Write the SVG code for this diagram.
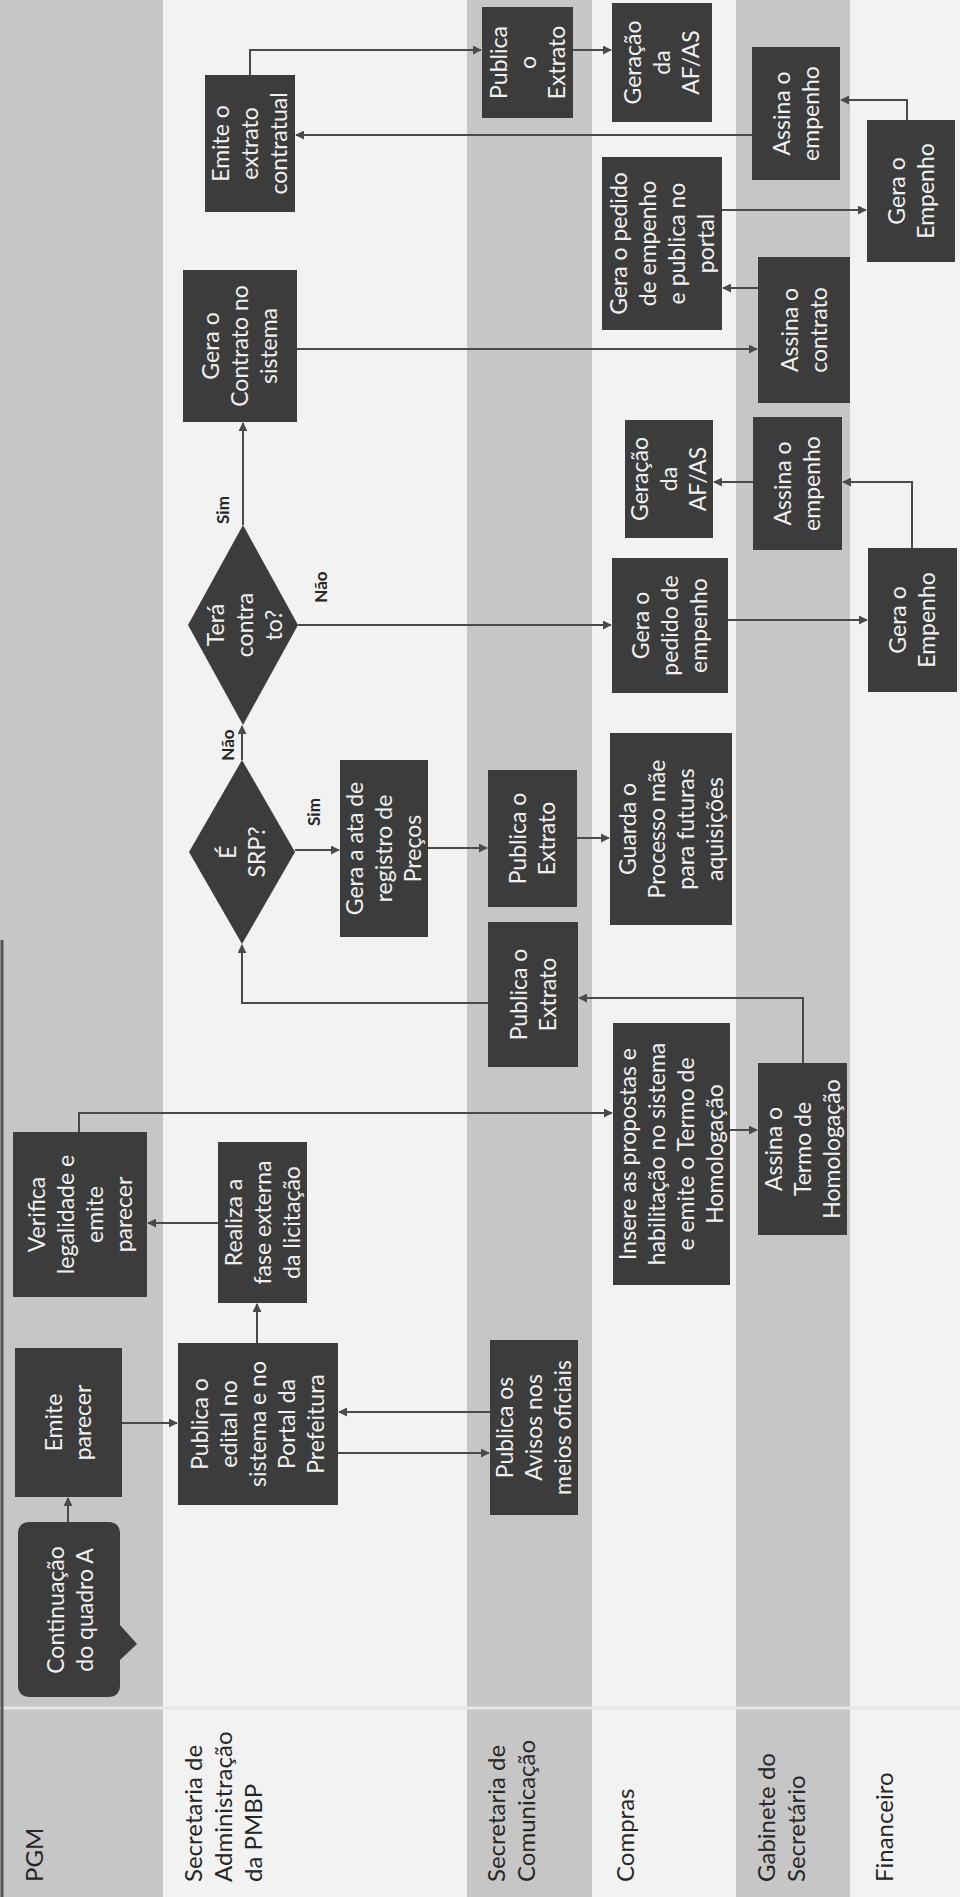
<svg xmlns="http://www.w3.org/2000/svg" width="960" height="1897" viewBox="0 0 960 1897">
<defs>
<marker id="ah" viewBox="0 0 10 10" refX="9" refY="5" markerWidth="4.5" markerHeight="4.5" orient="auto">
<path d="M0,0 L10,5 L0,10 z" fill="#4a4a4a"/>
</marker>
<style>
.lg{fill:#c6c6c6}
.lw{fill:#f2f2f2}
.box{fill:#3c3c3c}
.t{font-family:Lato,"Liberation Sans",sans-serif;font-size:23px;fill:#f0f0f0;text-anchor:middle}
.lbl{font-family:Lato,"Liberation Sans",sans-serif;font-size:24px;fill:#262626;text-anchor:start}
.yn{font-family:Lato,"Liberation Sans",sans-serif;font-size:17px;font-weight:bold;fill:#262626;text-anchor:middle}
.c{fill:none;stroke:#4a4a4a;stroke-width:2;marker-end:url(#ah)}
</style>
</defs>
<g id="lanes">
<rect class="lg" x="0" y="0" width="163" height="1897"/>
<rect class="lw" x="163" y="0" width="304" height="1897"/>
<rect class="lg" x="467" y="0" width="125" height="1897"/>
<rect class="lw" x="592" y="0" width="144" height="1897"/>
<rect class="lg" x="736" y="0" width="114" height="1897"/>
<rect class="lw" x="850" y="0" width="110" height="1897"/>
<line x1="0" y1="1708" x2="960" y2="1708" stroke="#e6e6e6" stroke-width="3"/>
<line x1="2" y1="940" x2="2" y2="1897" stroke="#555" stroke-width="3"/>
<text class="lbl" transform="translate(43,1882) rotate(-90)"><tspan x="0" y="0">PGM</tspan></text>
<text class="lbl" transform="translate(202,1882) rotate(-90)"><tspan x="0" y="0">Secretaria de</tspan><tspan x="0" y="30">Administração</tspan><tspan x="0" y="60">da PMBP</tspan></text>
<text class="lbl" transform="translate(505,1882) rotate(-90)"><tspan x="0" y="0">Secretaria de</tspan><tspan x="0" y="30">Comunicação</tspan></text>
<text class="lbl" transform="translate(634,1882) rotate(-90)"><tspan x="0" y="0">Compras</tspan></text>
<text class="lbl" transform="translate(775,1882) rotate(-90)"><tspan x="0" y="0">Gabinete do</tspan><tspan x="0" y="30">Secretário</tspan></text>
<text class="lbl" transform="translate(893,1882) rotate(-90)"><tspan x="0" y="0">Financeiro</tspan></text>
</g>
<g id="connectors">
<path class="c" d="M68,1522 V1498"/>
<path class="c" d="M122,1423 H177"/>
<path class="c" d="M338,1453 H489"/>
<path class="c" d="M490,1412 H339"/>
<path class="c" d="M257,1343 V1304"/>
<path class="c" d="M218,1223 H148"/>
<path class="c" d="M79,1132 V1113 H612"/>
<path class="c" d="M730,1130 H757"/>
<path class="c" d="M803,1063 V998 H579"/>
<path class="c" d="M488,1003 H242 V945"/>
<path class="c" d="M295,850 H339"/>
<path class="c" d="M428,848 H487"/>
<path class="c" d="M577,838 H609"/>
<path class="c" d="M242,760 V726"/>
<path class="c" d="M243,525 V423"/>
<path class="c" d="M298,625 H611"/>
<path class="c" d="M728,620 H867"/>
<path class="c" d="M912,548 V482 H843"/>
<path class="c" d="M753,482 H714"/>
<path class="c" d="M297,349 H757"/>
<path class="c" d="M758,288 H723"/>
<path class="c" d="M722,210 H866"/>
<path class="c" d="M907,120 V100 H841"/>
<path class="c" d="M752,135 H296"/>
<path class="c" d="M250,75 V50 H481"/>
<path class="c" d="M573,50 H611"/>
<text class="yn" transform="translate(229,510) rotate(-90)">Sim</text>
<text class="yn" transform="translate(327,587) rotate(-90)">Não</text>
<text class="yn" transform="translate(234,745) rotate(-90)">Não</text>
<text class="yn" transform="translate(320,812) rotate(-90)">Sim</text>
</g>
<g id="n_continuacao">
<path class="box" d="M30,1522 H108 Q120,1522 120,1534 V1625 L137,1644 L120,1660 V1685 Q120,1697 108,1697 H30 Q18,1697 18,1685 V1534 Q18,1522 30,1522 Z"/>
<text class="t" transform="translate(70,1610) rotate(-90)"><tspan x="0" y="-6.5">Continuação</tspan><tspan x="0" y="22.5">do quadro A</tspan></text>
</g>
<g id="n_emite_parecer">
<rect class="box" x="15" y="1348" width="107" height="149"/>
<text class="t" transform="translate(68.5,1422.5) rotate(-90)"><tspan x="0" y="-6.5">Emite</tspan><tspan x="0" y="22.5">parecer</tspan></text>
</g>
<g id="n_verifica">
<rect class="box" x="13" y="1132" width="134" height="165"/>
<text class="t" transform="translate(80,1214.5) rotate(-90)"><tspan x="0" y="-35.5">Verifica</tspan><tspan x="0" y="-6.5">legalidade e</tspan><tspan x="0" y="22.5">emite</tspan><tspan x="0" y="51.5">parecer</tspan></text>
</g>
<g id="n_publica_edital">
<rect class="box" x="178" y="1343" width="160" height="162"/>
<text class="t" transform="translate(258,1424) rotate(-90)"><tspan x="0" y="-50">Publica o</tspan><tspan x="0" y="-21">edital no</tspan><tspan x="0" y="8">sistema e no</tspan><tspan x="0" y="37">Portal da</tspan><tspan x="0" y="66">Prefeitura</tspan></text>
</g>
<g id="n_realiza">
<rect class="box" x="218" y="1142" width="89" height="161"/>
<text class="t" transform="translate(262.5,1222.5) rotate(-90)"><tspan x="0" y="-21">Realiza a</tspan><tspan x="0" y="8">fase externa</tspan><tspan x="0" y="37">da licitação</tspan></text>
</g>
<g id="n_publica_avisos">
<rect class="box" x="490" y="1340" width="88" height="175"/>
<text class="t" transform="translate(534,1427.5) rotate(-90)"><tspan x="0" y="-21">Publica os</tspan><tspan x="0" y="8">Avisos nos</tspan><tspan x="0" y="37">meios oficiais</tspan></text>
</g>
<g id="n_insere">
<rect class="box" x="613" y="1023" width="117" height="262"/>
<text class="t" transform="translate(671.5,1154) rotate(-90)"><tspan x="0" y="-35.5">Insere as propostas e</tspan><tspan x="0" y="-6.5">habilitação no sistema</tspan><tspan x="0" y="22.5">e emite o Termo de</tspan><tspan x="0" y="51.5">Homologação</tspan></text>
</g>
<g id="n_assina_termo">
<rect class="box" x="758" y="1063" width="89" height="172"/>
<text class="t" transform="translate(802.5,1149) rotate(-90)"><tspan x="0" y="-21">Assina o</tspan><tspan x="0" y="8">Termo de</tspan><tspan x="0" y="37">Homologação</tspan></text>
</g>
<g id="n_publica_extrato1">
<rect class="box" x="488" y="922" width="90" height="145"/>
<text class="t" transform="translate(533,994.5) rotate(-90)"><tspan x="0" y="-6.5">Publica o</tspan><tspan x="0" y="22.5">Extrato</tspan></text>
</g>
<g id="n_e_srp">
<polygon class="box" points="242,760 295,852 242,944 189,852"/>
<text class="t" transform="translate(242,852) rotate(-90)"><tspan x="0" y="-6.5">É</tspan><tspan x="0" y="22.5">SRP?</tspan></text>
</g>
<g id="n_gera_ata">
<rect class="box" x="340" y="760" width="88" height="177"/>
<text class="t" transform="translate(384,848.5) rotate(-90)"><tspan x="0" y="-21">Gera a ata de</tspan><tspan x="0" y="8">registro de</tspan><tspan x="0" y="37">Preços</tspan></text>
</g>
<g id="n_publica_extrato2">
<rect class="box" x="488" y="770" width="89" height="137"/>
<text class="t" transform="translate(532.5,838.5) rotate(-90)"><tspan x="0" y="-6.5">Publica o</tspan><tspan x="0" y="22.5">Extrato</tspan></text>
</g>
<g id="n_guarda">
<rect class="box" x="610" y="733" width="122" height="192"/>
<text class="t" transform="translate(671,829) rotate(-90)"><tspan x="0" y="-35.5">Guarda o</tspan><tspan x="0" y="-6.5">Processo  mãe</tspan><tspan x="0" y="22.5">para futuras</tspan><tspan x="0" y="51.5">aquisições</tspan></text>
</g>
<g id="n_tera">
<polygon class="box" points="243,525 298,625 243,725 188,625"/>
<text class="t" transform="translate(245,625) rotate(-90)"><tspan x="0" y="-21">Terá</tspan><tspan x="0" y="8">contra</tspan><tspan x="0" y="37">to?</tspan></text>
</g>
<g id="n_gera_pedido">
<rect class="box" x="612" y="558" width="116" height="135"/>
<text class="t" transform="translate(670,625.5) rotate(-90)"><tspan x="0" y="-21">Gera o</tspan><tspan x="0" y="8">pedido de</tspan><tspan x="0" y="37">empenho</tspan></text>
</g>
<g id="n_gera_empenho2">
<rect class="box" x="868" y="548" width="89" height="144"/>
<text class="t" transform="translate(912.5,620) rotate(-90)"><tspan x="0" y="-6.5">Gera o</tspan><tspan x="0" y="22.5">Empenho</tspan></text>
</g>
<g id="n_assina_empenho2">
<rect class="box" x="753" y="417" width="89" height="133"/>
<text class="t" transform="translate(797.5,483.5) rotate(-90)"><tspan x="0" y="-6.5">Assina o</tspan><tspan x="0" y="22.5">empenho</tspan></text>
</g>
<g id="n_geracao2">
<rect class="box" x="625" y="420" width="88" height="118"/>
<text class="t" transform="translate(669,479) rotate(-90)"><tspan x="0" y="-21">Geração</tspan><tspan x="0" y="8">da</tspan><tspan x="0" y="37">AF/AS</tspan></text>
</g>
<g id="n_gera_contrato">
<rect class="box" x="183" y="270" width="114" height="152"/>
<text class="t" transform="translate(240,346) rotate(-90)"><tspan x="0" y="-21">Gera o</tspan><tspan x="0" y="8">Contrato no</tspan><tspan x="0" y="37">sistema</tspan></text>
</g>
<g id="n_assina_contrato">
<rect class="box" x="758" y="257" width="92" height="146"/>
<text class="t" transform="translate(804,330) rotate(-90)"><tspan x="0" y="-6.5">Assina o</tspan><tspan x="0" y="22.5">contrato</tspan></text>
</g>
<g id="n_gera_pedido_portal">
<rect class="box" x="602" y="157" width="120" height="173"/>
<text class="t" transform="translate(662,243.5) rotate(-90)"><tspan x="0" y="-35.5">Gera o pedido</tspan><tspan x="0" y="-6.5">de empenho</tspan><tspan x="0" y="22.5">e publica no</tspan><tspan x="0" y="51.5">portal</tspan></text>
</g>
<g id="n_gera_empenho1">
<rect class="box" x="867" y="120" width="88" height="142"/>
<text class="t" transform="translate(911,191) rotate(-90)"><tspan x="0" y="-6.5">Gera o</tspan><tspan x="0" y="22.5">Empenho</tspan></text>
</g>
<g id="n_assina_empenho1">
<rect class="box" x="752" y="47" width="88" height="133"/>
<text class="t" transform="translate(796,113.5) rotate(-90)"><tspan x="0" y="-6.5">Assina o</tspan><tspan x="0" y="22.5">empenho</tspan></text>
</g>
<g id="n_emite_extrato">
<rect class="box" x="205" y="75" width="90" height="137"/>
<text class="t" transform="translate(250,143.5) rotate(-90)"><tspan x="0" y="-21">Emite o</tspan><tspan x="0" y="8">extrato</tspan><tspan x="0" y="37">contratual</tspan></text>
</g>
<g id="n_publica_extrato3">
<rect class="box" x="482" y="7" width="91" height="111"/>
<text class="t" transform="translate(527.5,62.5) rotate(-90)"><tspan x="0" y="-21">Publica</tspan><tspan x="0" y="8">o</tspan><tspan x="0" y="37">Extrato</tspan></text>
</g>
<g id="n_geracao1">
<rect class="box" x="612" y="3" width="100" height="119"/>
<text class="t" transform="translate(662,62.5) rotate(-90)"><tspan x="0" y="-21">Geração</tspan><tspan x="0" y="8">da</tspan><tspan x="0" y="37">AF/AS</tspan></text>
</g>
</svg>
